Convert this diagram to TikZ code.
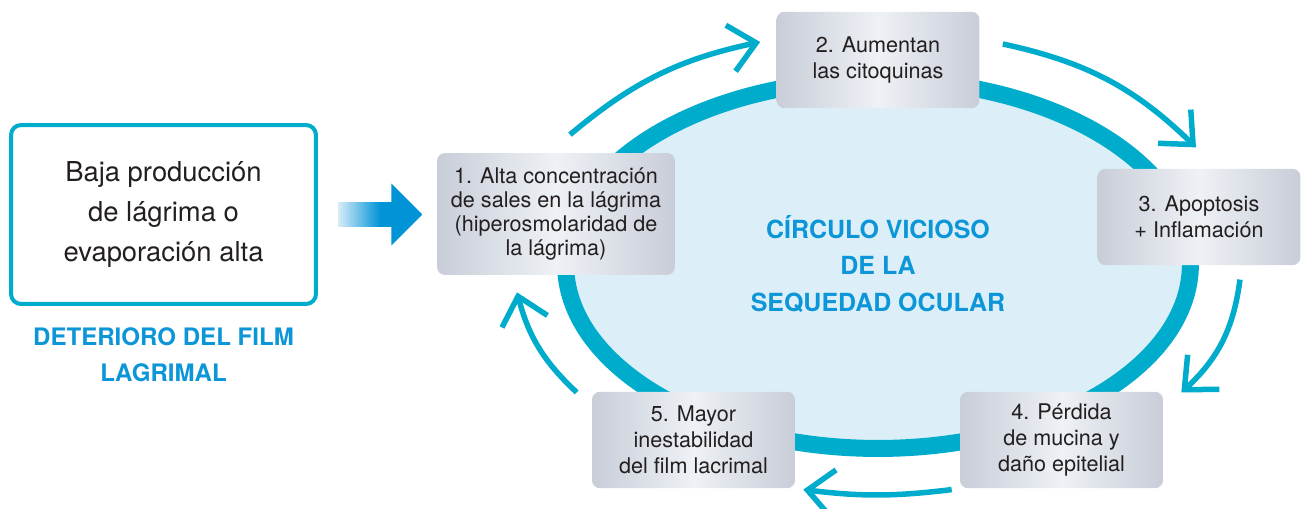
\documentclass[tikz,border=0pt]{standalone}
\usepackage{fontspec}
\setmainfont{TeX Gyre Heros}
\usetikzlibrary{positioning,arrows.meta,shapes.geometric,shapes.arrows}

\definecolor{ringcyan}{RGB}{0,172,204}
\definecolor{titleblue}{RGB}{12,150,216}
\definecolor{eyefill}{RGB}{220,239,248}
\definecolor{boxedge}{RGB}{200,205,216}
\definecolor{boxmid}{RGB}{238,241,245}
\definecolor{txtdark}{RGB}{35,31,32}
\definecolor{arrowblue}{RGB}{0,147,214}
\definecolor{arrowlight}{RGB}{214,236,248}

\begin{document}
\begin{tikzpicture}[
    x=0.02cm, y=0.02cm,
    stepbox/.style={rounded corners=0.16cm, left color=boxedge, right color=boxedge, middle color=boxmid,
        text=txtdark, align=center, inner sep=0pt, minimum width=4.06cm, minimum height=1.93cm,
        font=\fontsize{12.3}{14.8}\selectfont},
    causebox/.style={draw=ringcyan, line width=0.08cm, rounded corners=0.2cm, fill=white, text=txtdark,
        align=center, minimum width=6.1cm, minimum height=3.58cm, font=\fontsize{15.6}{22.8}\selectfont},
    bluelabel/.style={text=titleblue, align=center, inner sep=0pt, font=\bfseries\fontsize{13.7}{20.5}\selectfont},
    eyering/.style={ellipse, draw=ringcyan, line width=0.34cm, fill=eyefill, minimum width=12.5cm,
        minimum height=7.38cm, inner sep=0pt, text=titleblue, align=center,
        font=\bfseries\fontsize{14.2}{20.8}\selectfont},
    bigarrow/.style={single arrow, minimum height=1.68cm, minimum width=1.22cm, single arrow head extend=0.37cm,
        inner xsep=0pt, inner ysep=0.24cm, left color=arrowlight, right color=arrowblue, middle color=arrowblue},
    turnarrow/.style={-{Straight Barb[length=0.52cm,width=0.94cm]}, draw=ringcyan, line width=0.11cm}
    ]
        \useasboundingbox (0,0) rectangle (1303,-509);

        %Ring
        \node[eyering] (eye) at (878,-264) {CÍRCULO VICIOSO\\DE LA\\SEQUEDAD OCULAR};

        %Nodes
        \node[causebox] (src) at (163.5,-214.5) {Baja producción\\de lágrima o\\evaporación alta};
        \node[bluelabel] (srclbl) [below=0.42cm of src] {DETERIORO DEL FILM\\LAGRIMAL};
        \node[stepbox, minimum width=4.76cm, minimum height=2.44cm, font=\fontsize{12.3}{13.7}\selectfont]
            (b1) at (556,-214) {1. Alta concentración\\de sales en la lágrima\\(hiperosmolaridad de\\la lágrima)};
        \node[stepbox] (b2) at (878,-60)    {2. Aumentan\\las citoquinas};
        \node[stepbox] (b3) at (1199,-217)  {3. Apoptosis\\+ Inflamación};
        \node[stepbox] (b4) at (1061.5,-440) {4. Pérdida\\de mucina y\\daño epitelial};
        \node[stepbox] (b5) at (693.5,-440) {5. Mayor\\inestabilidad\\del film lacrimal};
        \node[bigarrow] (arr) [right=0.4cm of src] {};

        %Lines
        \draw[turnarrow] ([shift={(14,18)}]b1.north) to[bend left=14] ([shift={(-16,18)}]b2.west);
        \draw[turnarrow] ([shift={(23,16)}]b2.east) to[bend left=16] ([shift={(-3,21)}]b3.north);
        \draw[turnarrow] ([shift={(41,-14)}]b3.south) to[bend left=20] ([shift={(18,-1)}]b4.north east);
        \draw[turnarrow] ([shift={(-8,-1)}]b4.south west) to[bend left=7] ([shift={(8,-1)}]b5.south east);
        \draw[turnarrow] ([shift={(-15,-1)}]b5.north west) to[bend left=16] ([shift={(-39,-17)}]b1.south);
\end{tikzpicture}
\end{document}
